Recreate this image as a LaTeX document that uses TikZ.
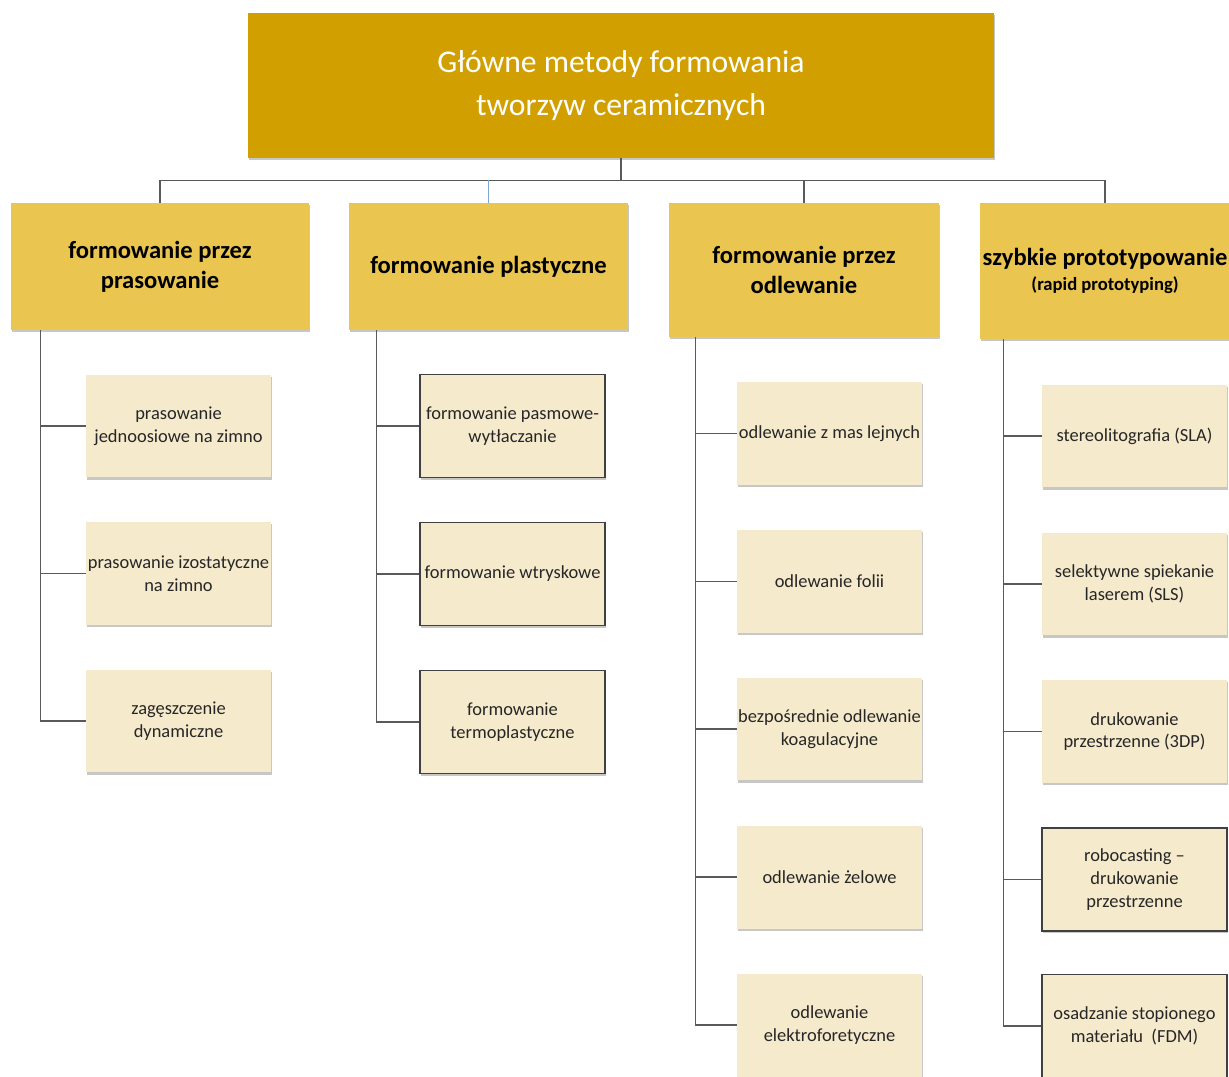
\documentclass[tikz,border=0pt]{standalone}
\usepackage{fontspec}
\setmainfont{Carlito}
\usetikzlibrary{positioning,shadows}
\definecolor{goldDark}{RGB}{209,160,0}
\definecolor{goldMid}{RGB}{234,197,80}
\definecolor{cream}{RGB}{246,234,205}
\definecolor{linkGray}{RGB}{90,90,90}
\definecolor{linkBlue}{RGB}{125,165,215}
\definecolor{textGray}{RGB}{38,38,38}
\tikzset{
  boxshadow/.style={drop shadow={shadow xshift=0.7pt, shadow yshift=-1.4pt, opacity=0.22, fill=black}},
  topbox/.style={boxshadow, fill=goldDark, text=white, align=center,
    font=\fontsize{18}{24}\selectfont, inner sep=2pt,
    minimum width=14.92cm, minimum height=2.9cm},
  catbox/.style={boxshadow, fill=goldMid, text=black, align=center,
    font=\fontsize{14}{17}\selectfont\bfseries, inner sep=2pt, inner xsep=0pt},
  leafbox/.style={boxshadow, fill=cream, text=textGray, align=center,
    font=\fontsize{10.5}{13}\selectfont, inner ysep=2pt, inner xsep=0pt,
    minimum width=3.7cm, minimum height=2.06cm},
  leafframed/.style={leafbox, draw=black!75, line width=1.1pt},
  link/.style={draw=linkGray, line width=0.9pt},
}

\begin{document}
\begin{tikzpicture}[x=0.02cm, y=-0.02cm]
    \useasboundingbox (0,0) rectangle (1229,1077);
    \clip (0,0) rectangle (1229,1077);
    % main title and the four groups
    \node[topbox] (top) at (621,85.5) {Główne metody formowania\\tworzyw ceramicznych};
    \node[catbox, minimum width=5.96cm, minimum height=2.54cm] (c1) at (160,266.5)
      {formowanie przez\\prasowanie};
    \node[catbox, minimum width=5.58cm, minimum height=2.54cm] (c2) at (488.5,266.5)
      {formowanie plastyczne};
    \node[catbox, minimum width=5.4cm, minimum height=2.68cm] (c3) at (804,270)
      {formowanie przez\\odlewanie};
    \node[catbox, minimum width=5.0cm, minimum height=2.72cm] (c4) at (1105,271)
      {szybkie prototypowanie\\[-3pt]{\fontsize{10.6}{12}\selectfont(rapid prototyping)}};
    \draw[link] (top.south) -- ++(0,22) coordinate (bus);
    \foreach \c in {c1,c3,c4}
      \draw[link] (bus) -| (\c.north);
    \draw[link, draw=linkBlue] (c2.north) -- (c2.north |- bus);
    % pressing
    \foreach \i/\y/\txt in {1/426/{prasowanie\\jednoosiowe na zimno},
        2/573.5/{prasowanie izostatyczne\\na zimno},
        3/721/{zagęszczenie\\dynamiczne}} {
      \draw[link] ([xshift=0.6cm]c1.south west) |- (178.5,\y);
      \node[leafbox] (l1-\i) at (178.5,\y) {\txt};
    }
    % plastic forming
    \foreach \i/\y/\txt in {1/426/{formowanie pasmowe-\\wytłaczanie},
        2/574/{formowanie wtryskowe},
        3/722/{formowanie\\termoplastyczne}} {
      \draw[link] ([xshift=0.56cm]c2.south west) |- (512.5,\y);
      \node[leafframed] (l2-\i) at (512.5,\y) {\txt};
    }
    % casting
    \foreach \i/\y/\txt in {1/433.5/{odlewanie z mas lejnych},
        2/581.5/{odlewanie folii},
        3/729/{bezpośrednie odlewanie\\koagulacyjne},
        4/877/{odlewanie żelowe},
        5/1025/{odlewanie\\elektroforetyczne}} {
      \draw[link] ([xshift=0.54cm]c3.south west) |- (829.5,\y);
      \node[leafbox] (l3-\i) at (829.5,\y) {\txt};
    }
    % rapid prototyping
    \foreach \i/\y/\st/\txt in {1/436/leafbox/{stereolitografia (SLA)},
        2/584/leafbox/{selektywne spiekanie\\laserem (SLS)},
        3/731.5/leafbox/{drukowanie\\przestrzenne (3DP)},
        4/879.5/leafframed/{robocasting –\\drukowanie\\przestrzenne},
        5/1026/leafframed/{osadzanie stopionego\\materiału\ \ (FDM)}} {
      \draw[link] ([xshift=0.48cm]c4.south west) |- (1134.5,\y);
      \node[\st] (l4-\i) at (1134.5,\y) {\txt};
    }
  \end{tikzpicture}
\end{document}
